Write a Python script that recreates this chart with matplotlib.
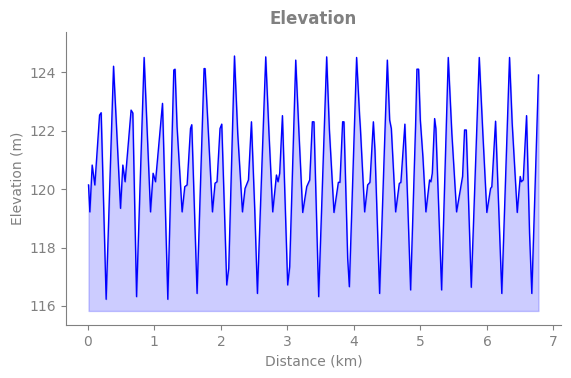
import matplotlib
matplotlib.use('Agg')
import matplotlib.pyplot as plt

# distance (km) and elevation (m)
distance_km = [
    0.01, 0.03, 0.065, 0.105, 0.176, 0.20, 0.275, 0.386, 0.491, 0.526,
    0.56, 0.65, 0.676, 0.732, 0.846, 0.942, 0.981, 1.017, 1.122, 1.202,
    1.292, 1.311, 1.341, 1.417, 1.457, 1.492, 1.543, 1.562, 1.642, 1.747,
    1.762, 1.873, 1.912, 1.942, 1.987, 2.013, 2.088, 2.118, 2.204, 2.253,
    2.324, 2.363, 2.414, 2.459, 2.509, 2.549, 2.674, 2.723, 2.779, 2.835,
    2.859, 2.884, 2.925, 2.985, 3.004, 3.034, 3.125, 3.174, 3.23, 3.29,
    3.335, 3.375, 3.399, 3.47, 3.59, 3.631, 3.70, 3.766, 3.79, 3.83,
    3.85, 3.906, 3.931, 4.04, 4.086, 4.096, 4.161, 4.206, 4.241, 4.292,
    4.316, 4.386, 4.502, 4.537, 4.562, 4.627, 4.682, 4.706, 4.766, 4.807,
    4.852, 4.907, 4.927, 4.947, 4.972, 4.998, 5.037, 5.082, 5.137, 5.157,
    5.178, 5.213, 5.232, 5.318, 5.418, 5.472, 5.543, 5.599, 5.633, 5.663,
    5.689, 5.764, 5.884, 5.938, 5.998, 6.054, 6.073, 6.129, 6.163, 6.223,
    6.339, 6.379, 6.455, 6.50, 6.515, 6.545, 6.595, 6.64, 6.674, 6.775,
]
elevation_m = [
    120.14, 119.22, 120.82, 120.14, 122.53, 122.61, 116.23, 124.2, 119.34, 120.82,
    120.25, 122.7, 122.6, 116.32, 124.5, 119.22, 120.54, 120.25, 122.93, 116.23,
    124.07, 124.1, 122.13, 119.22, 120.08, 120.14, 122.07, 122.2, 116.43, 124.12,
    124.12, 119.22, 120.2, 120.25, 122.07, 122.22, 116.72, 117.29, 124.55, 121.9,
    119.22, 120.02, 120.31, 122.3, 119.28, 116.43, 124.52, 121.9, 119.22, 120.48,
    120.25, 120.54, 122.51, 118.14, 116.72, 117.34, 124.41, 121.9, 119.2, 120.08,
    120.31, 122.3, 122.3, 116.32, 124.52, 122.02, 119.2, 120.23, 120.23, 122.3,
    122.3, 117.63, 116.66, 124.5, 122.47, 122.13, 119.22, 120.14, 120.23, 122.3,
    121.33, 116.43, 124.41, 122.36, 122.07, 119.22, 120.19, 120.23, 122.22, 119.62,
    116.55, 120.76, 122.19, 124.1, 124.1, 122.36, 121.1, 119.22, 120.31, 120.25,
    120.54, 122.41, 122.07, 116.55, 124.5, 121.9, 119.22, 119.97, 120.43, 122.02,
    122.02, 116.64, 124.5, 121.9, 119.2, 120.02, 120.08, 122.32, 120.19, 116.43,
    124.5, 122.25, 119.2, 120.43, 120.25, 120.31, 122.51, 118.49, 116.43, 123.9,
]
fill_base = min(elevation_m) - 0.4

grey = '#808080'

fig = plt.figure(figsize=(5.71, 3.78), dpi=100)
ax = fig.add_axes([0.1156, 0.1402, 0.8669, 0.7751])

ax.plot(distance_km, elevation_m, color='blue', linewidth=1)
ax.fill_between(distance_km, elevation_m, fill_base, color='blue', alpha=0.2)

ax.set_ylim(115.35, 125.37)
ax.set_xticks(range(0, 8))
ax.set_yticks([116, 118, 120, 122, 124])

ax.set_title('Elevation', fontsize=12, fontweight='bold', color=grey)
ax.set_xlabel('Distance (km)', color=grey)
ax.set_ylabel('Elevation (m)', color=grey)

for side in ['top', 'right']:
    ax.spines[side].set_visible(False)
for side in ['left', 'bottom']:
    ax.spines[side].set_color(grey)
ax.tick_params(colors=grey, labelcolor=grey)

fig.savefig('out.png', dpi=100)
